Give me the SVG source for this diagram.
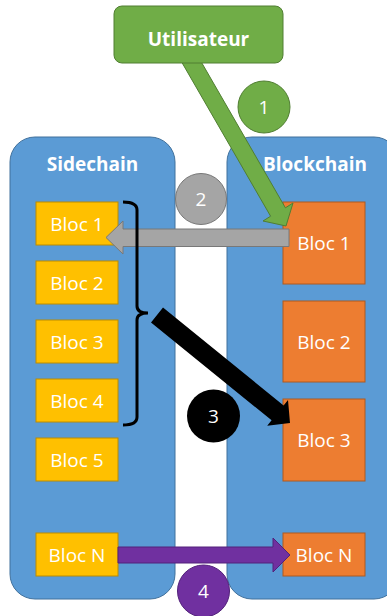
<svg xmlns="http://www.w3.org/2000/svg" width="387" height="616" viewBox="0 0 387 616">
<style>
text{font-family:"Open Sans","Liberation Sans",sans-serif;fill:#fff;text-anchor:middle}
.t{font-weight:bold;font-size:19px}
.b{font-size:19px}
.cont{fill:#5B9BD5;stroke:#41719C;stroke-width:1}
.y{fill:#FFC000;stroke:#BC8C00;stroke-width:1}
.o{fill:#ED7D31;stroke:#AE5A21;stroke-width:1}
</style>
<g id="sidechain"><rect class="cont" x="10" y="137" width="165" height="462" rx="25"/><text class="t" x="92.5" y="171">Sidechain</text></g>
<g id="blockchain"><rect class="cont" x="227" y="137" width="172" height="462" rx="25"/><text class="t" x="315" y="171">Blockchain</text></g>
<g id="s1"><rect class="y" x="36" y="202" width="82" height="43"/><text class="b" x="77" y="231">Bloc 1</text></g>
<g id="s2"><rect class="y" x="36" y="261" width="82" height="43"/><text class="b" x="77" y="290">Bloc 2</text></g>
<g id="s3"><rect class="y" x="36" y="320" width="82" height="43"/><text class="b" x="77" y="349">Bloc 3</text></g>
<g id="s4"><rect class="y" x="36" y="379" width="82" height="43"/><text class="b" x="77" y="408">Bloc 4</text></g>
<g id="s5"><rect class="y" x="36" y="438" width="82" height="43"/><text class="b" x="77" y="467">Bloc 5</text></g>
<g id="sN"><rect class="y" x="36" y="533" width="82" height="43"/><text class="b" x="77" y="562">Bloc N</text></g>
<g id="b1"><rect class="o" x="283" y="202" width="82" height="82"/><text class="b" x="324" y="250">Bloc 1</text></g>
<g id="b2"><rect class="o" x="283" y="301" width="82" height="81"/><text class="b" x="324" y="349">Bloc 2</text></g>
<g id="b3"><rect class="o" x="283" y="399" width="82" height="82"/><text class="b" x="324" y="447">Bloc 3</text></g>
<g id="bN"><rect class="o" x="283" y="533" width="82" height="43"/><text class="b" x="324" y="562">Bloc N</text></g>
<g id="connectors">
<polygon points="195.4,51.8 285.4,207.8 293,203 286,226 263,221 270.6,216.2 180.6,60.2" fill="#70AD47" stroke="#507E32" stroke-width="1"/>
<polygon points="289,229 123,229 123,221 106,237.5 123,254 123,246.5 289,246.5" fill="#A5A5A5" stroke="#787878" stroke-width="1"/>
<path d="M123,202 Q137,202 137,210 L137,306 Q137,313 148,313 Q137,313 137,320 L137,417 Q137,425 123,425" fill="none" stroke="#000" stroke-width="3"/>
<polygon points="163,307.6 283.6,405.5 288,400.1 290,423 267.2,425.7 271.6,420.3 151,322.4" fill="#000"/>
<polygon points="118,547 273,547 273,538 290,555 273,572 273,563 118,563" fill="#7030A0" stroke="#52217A" stroke-width="1"/>
</g>
<g id="utilisateur"><rect x="114" y="6" width="169" height="57" rx="8" fill="#70AD47" stroke="#507E32" stroke-width="1"/><text class="t" x="198.5" y="46">Utilisateur</text></g>
<g id="c1"><circle cx="264" cy="107" r="26" fill="#70AD47" stroke="#507E32"/><text class="b" x="264" y="114">1</text></g>
<g id="c2"><circle cx="201" cy="199" r="25.5" fill="#A5A5A5" stroke="#787878"/><text class="b" x="201" y="206">2</text></g>
<g id="c3"><circle cx="213.5" cy="416" r="26.5" fill="#000"/><text class="b" x="213.5" y="423">3</text></g>
<g id="c4"><circle cx="203.5" cy="591" r="26" fill="#7030A0" stroke="#52217A"/><text class="b" x="203.5" y="598">4</text></g>
</svg>
